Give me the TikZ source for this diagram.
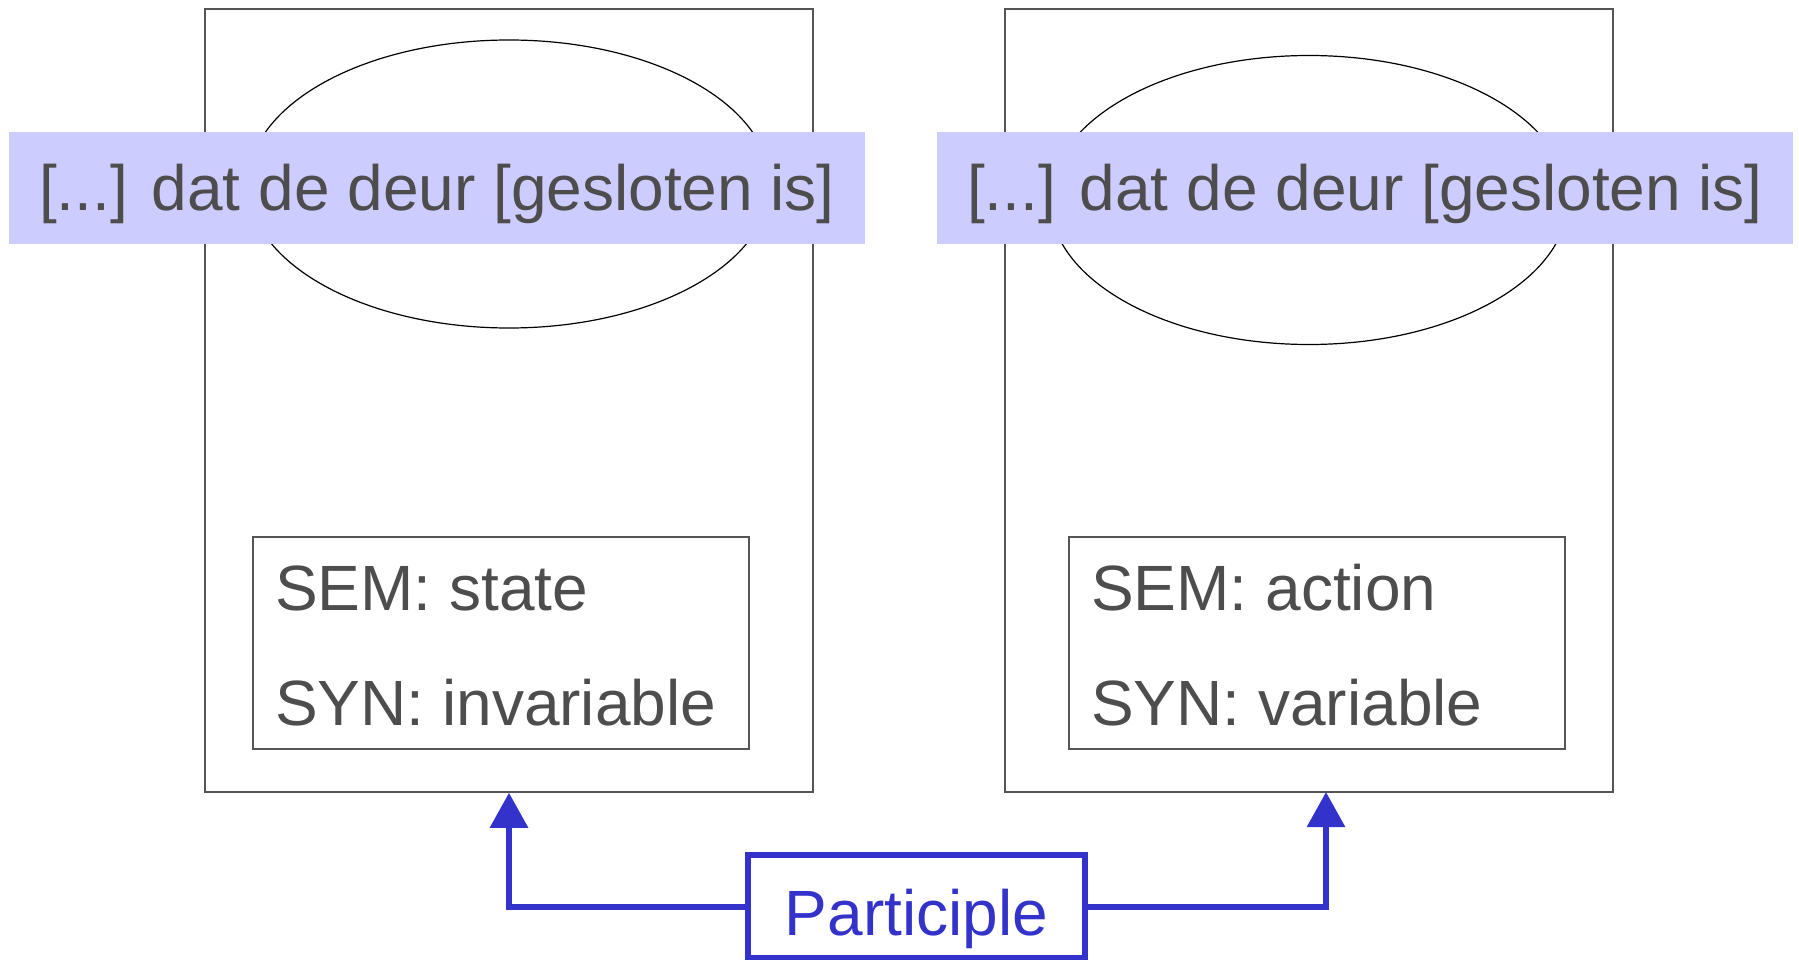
\documentclass[tikz,border=0pt]{standalone}
\usepackage{fontspec}
\setmainfont{Liberation Sans}
\usetikzlibrary{shapes.geometric,arrows.meta}
\definecolor{bandfill}{HTML}{CCCCFF}
\definecolor{txtgray}{HTML}{4D4D4D}
\definecolor{pblue}{HTML}{3333CC}
\definecolor{boxgray}{HTML}{555555}
\begin{document}
\begin{tikzpicture}[x=1pt,y=-1pt,
  bigfont/.style={font=\fontsize{64}{77}\selectfont},
  outerbox/.style={draw=boxgray,line width=1.5pt,minimum width=608pt,minimum height=783pt,inner sep=0pt},
  oval/.style={ellipse,draw=black,line width=1.2pt,inner sep=0pt},
  band/.style={fill=bandfill,minimum width=856pt,minimum height=112pt,inner sep=0pt,bigfont,text=txtgray,text height=46pt,text depth=0pt},
  featbox/.style={draw=boxgray,line width=1.5pt,minimum width=496pt,minimum height=212pt,inner sep=0pt},
  feattext/.style={anchor=base west,bigfont,text=txtgray,inner sep=0pt},
  partbox/.style={draw=pblue,line width=6pt,minimum width=337pt,minimum height=103pt,inner sep=0pt,bigfont,text=pblue,text height=58pt,text depth=0pt},
  conn/.style={draw=pblue,line width=6pt,-{Triangle[length=35pt,width=37pt]}}
]
\useasboundingbox (0,0) rectangle (1799,960);

% outer boxes
\node[outerbox] (lout) at (509,400.5) {};
\node[outerbox] (rout) at (1309,400.5) {};

% ellipses
\node[oval,minimum width=522pt,minimum height=288pt] (lell) at (509,184) {};
\node[oval,minimum width=518pt,minimum height=289pt] (rell) at (1309,200) {};

% bands with sentence
\node[band] (lband) at (437,188) {[...] dat de deur [gesloten is]};
\node[band] (rband) at (1365,188) {[...] dat de deur [gesloten is]};

% feature boxes
\node[featbox] (lfeat) at (501,643) {};
\node[featbox] (rfeat) at (1317,643) {};
\node[feattext] (lsem) at (275,610) {SEM: state};
\node[feattext] (lsyn) at (275,725) {SYN: invariable};
\node[feattext] (rsem) at (1091,610) {SEM: action};
\node[feattext] (rsyn) at (1091,725) {SYN: variable};

% participle
\node[partbox] (part) at (916.5,906.5) {Participle};
\coordinate (rtip) at (1326,792);

\draw[conn] (part.west) -| (lout.south);
\draw[conn] (part.east) -| (rtip);
\end{tikzpicture}
\end{document}
